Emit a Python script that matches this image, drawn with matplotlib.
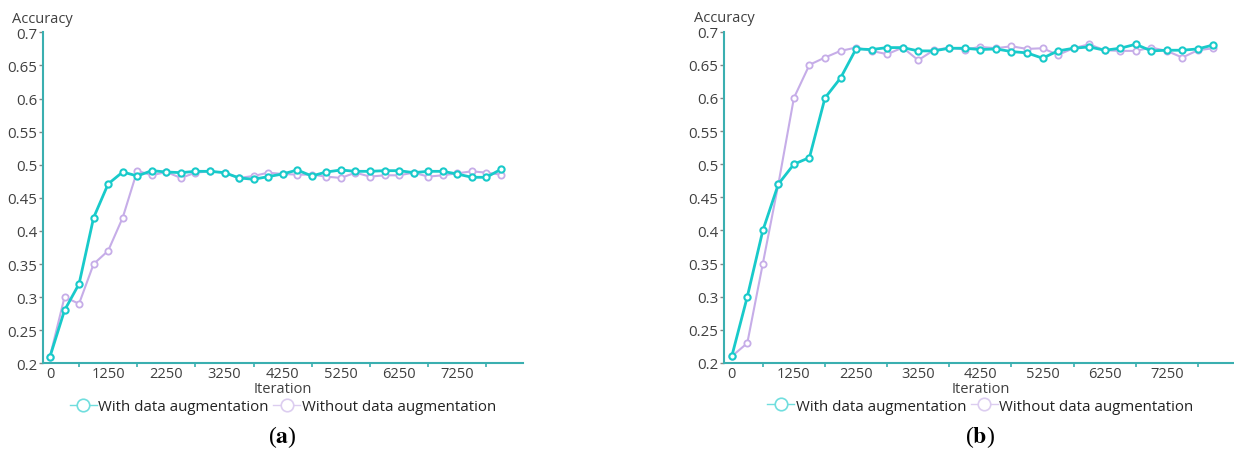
import matplotlib
matplotlib.use('Agg')
import matplotlib.pyplot as plt
from matplotlib.lines import Line2D

plt.rcParams['font.family'] = ['Open Sans', 'DejaVu Sans']
plt.rcParams['mathtext.fontset'] = 'stix'

# x is a category axis: 32 evaluation points, a label every 4th one
tick_labels = ['0', '1250', '2250', '3250', '4250', '5250', '6250', '7250']
n_points = 32

# panel (a)
acc_aug_a = [0.21, 0.28, 0.32, 0.42, 0.471, 0.489, 0.483, 0.491, 0.489, 0.488,
             0.490, 0.490, 0.488, 0.480, 0.478, 0.482, 0.486, 0.492, 0.483, 0.489,
             0.492, 0.490, 0.490, 0.491, 0.491, 0.488, 0.490, 0.490, 0.486, 0.481,
             0.481, 0.493]
acc_noaug_a = [0.21, 0.30, 0.29, 0.35, 0.37, 0.42, 0.491, 0.484, 0.489, 0.480,
               0.488, 0.490, 0.488, 0.480, 0.483, 0.488, 0.486, 0.485, 0.485, 0.482,
               0.480, 0.488, 0.482, 0.484, 0.484, 0.488, 0.482, 0.484, 0.487, 0.490,
               0.488, 0.485]

# panel (b)
acc_aug_b = [0.21, 0.30, 0.40, 0.47, 0.50, 0.51, 0.60, 0.63, 0.674, 0.673,
             0.676, 0.676, 0.671, 0.671, 0.675, 0.675, 0.673, 0.674, 0.670, 0.668,
             0.660, 0.671, 0.675, 0.677, 0.672, 0.675, 0.681, 0.671, 0.672, 0.672,
             0.674, 0.680]
acc_noaug_b = [0.21, 0.23, 0.35, 0.47, 0.60, 0.65, 0.661, 0.671, 0.676, 0.671,
               0.666, 0.676, 0.657, 0.672, 0.676, 0.673, 0.677, 0.675, 0.678, 0.674,
               0.675, 0.665, 0.675, 0.681, 0.672, 0.671, 0.671, 0.676, 0.671, 0.661,
               0.672, 0.675]

panels = [('a', acc_aug_a, acc_noaug_a), ('b', acc_aug_b, acc_noaug_b)]

teal = '#18caca'
lav = '#c6ade8'
spine_c = '#3aafb0'
txt_c = '#404040'

fig = plt.figure(figsize=(12.34, 4.52), dpi=100)
rects = [[0.0346, 0.194, 0.389, 0.7323], [0.5867, 0.1947, 0.4155, 0.733]]

for rect, (tag, aug, noaug) in zip(rects, panels):
    ax = fig.add_axes(rect)
    x = list(range(n_points))
    ax.plot(x, noaug, color=lav, lw=1.5, marker='o', ms=4.5, mfc='white',
            mec=lav, mew=1.3, zorder=2)
    ax.plot(x, aug, color=teal, lw=2.0, marker='o', ms=4.5, mfc='white',
            mec=teal, mew=1.5, zorder=3)
    ax.set_xlim(-0.5, 32.5)
    ax.set_ylim(0.2, 0.7)
    ax.set_yticks([0.2 + 0.05 * i for i in range(11)])
    ax.set_yticklabels(['0.2', '0.25', '0.3', '0.35', '0.4', '0.45', '0.5',
                        '0.55', '0.6', '0.65', '0.7'])
    ax.set_xticks(range(0, n_points, 4))
    ax.set_xticklabels(tick_labels)
    ax.set_xticks(range(2, n_points + 1, 4), minor=True)
    ax.tick_params(axis='x', which='major', length=0, pad=2, labelsize=10.5,
                   labelcolor=txt_c)
    ax.tick_params(axis='x', which='minor', length=3, width=1.2, color=spine_c)
    ax.tick_params(axis='y', length=3, width=1, color='#888888', pad=1,
                   labelsize=10.8, labelcolor=txt_c)
    for s in ['top', 'right']:
        ax.spines[s].set_visible(False)
    for s in ['left', 'bottom']:
        ax.spines[s].set_color(spine_c)
        ax.spines[s].set_linewidth(1.5)
    ax.text(0, 1.043, 'Accuracy', transform=ax.transAxes, ha='center',
            va='center', fontsize=10.5, color=txt_c)
    ax.text(0.5, -0.076, 'Iteration', transform=ax.transAxes, ha='center',
            va='center', fontsize=10.5, color=txt_c)
    handles = [
        Line2D([], [], color='#70dede', lw=1, marker='o', ms=9, mfc='white',
               mec='#70dede', mew=1.2),
        Line2D([], [], color='#dccdf0', lw=1, marker='o', ms=9, mfc='white',
               mec='#dccdf0', mew=1.2),
    ]
    leg = ax.legend(handles, ['With data augmentation', 'Without data augmentation'],
                    loc='center', bbox_to_anchor=(0.5, -0.13), ncol=2,
                    frameon=False, fontsize=10.8, handlelength=1.8,
                    handletextpad=0.1, columnspacing=0.3)
    for t in leg.get_texts():
        t.set_color('#222222')
    ax.text(0.5, -0.22, '(' + r'$\mathbf{' + tag + '}$' + ')',
            transform=ax.transAxes, ha='center', va='center', fontsize=17,
            family='Liberation Serif')

fig.savefig('out.png', dpi=100)
